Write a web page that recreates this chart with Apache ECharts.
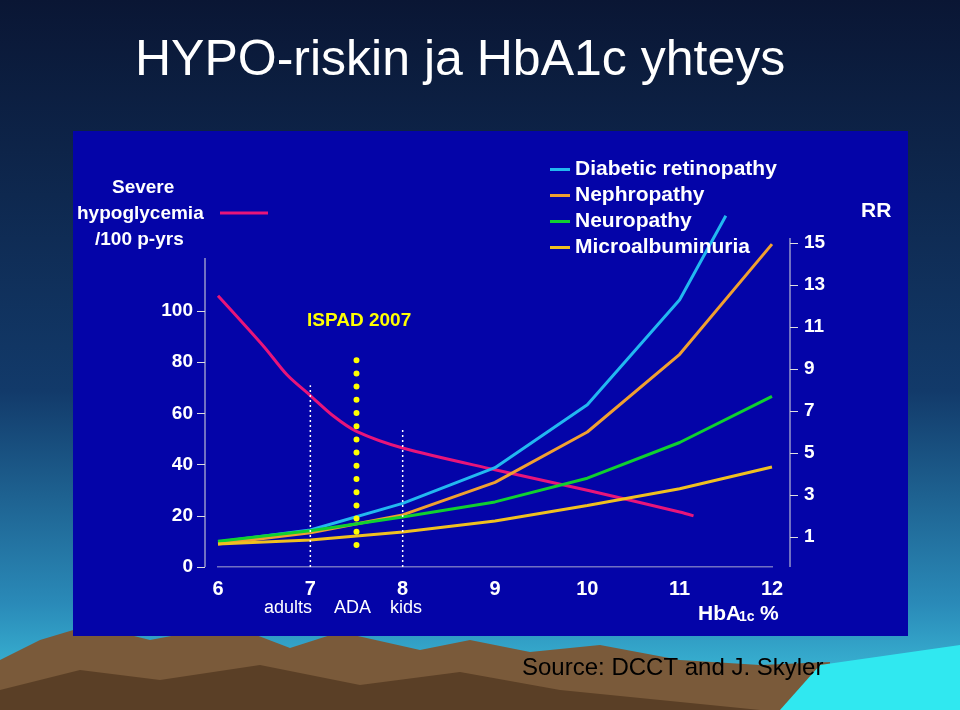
<!DOCTYPE html><html><head><meta charset="utf-8"><script src="https://cdn.jsdelivr.net/npm/echarts@6/dist/echarts.min.js"></script>
<style>html,body{margin:0;padding:0;background:#0b1a3e}#c{width:960px;height:710px}</style></head><body><div id="c"></div><script>
const hbaX=[6,7,8,9,10,11,12];
const hypo=[[6,106],[6.5,86],[6.75,75],[7,67],[7.25,59],[7.5,53],[8,46.5],[9,38],[10,30],[11,21.5],[11.15,20]];
const retinopathy=[0.76,1.33,2.6,4.3,7.3,12.3];
const retinoEnd=[11.5,16.3];
const nephropathy=[0.67,1.2,2.05,3.6,6,9.7,14.95];
const neuropathy=[0.8,1.3,1.95,2.67,3.8,5.5,7.7];
const microalb=[0.67,0.86,1.24,1.76,2.5,3.3,4.33];
const leftTicks=[0,20,40,60,80,100];
const rrTicks=[1,3,5,7,9,11,13,15];
const pair=a=>a.map((v,i)=>[hbaX[i],v]);
const retinoData=pair(retinopathy).concat([retinoEnd]);
const W='#ffffff',F='Liberation Sans, Arial, sans-serif';
const ch=echarts.init(document.getElementById('c'));
const lab=(t,x,y,o)=>({type:'text',left:x,top:y,style:Object.assign({text:t,fill:W,font:'bold 19px '+F},o||{})});
ch.setOption({
animation:false,
graphic:[
{type:'rect',shape:{x:0,y:0,width:960,height:710},z:-10,style:{fill:new echarts.graphic.LinearGradient(0,0,0,1,[{offset:0,color:'#0a1634'},{offset:0.55,color:'#123a6a'},{offset:0.85,color:'#2a8ab8'},{offset:1,color:'#40c8e0'}])}},
{type:'polygon',z:-9,shape:{points:[[0,660],[40,640],[90,625],[150,640],[230,625],[290,648],[340,632],[420,650],[470,640],[530,652],[600,645],[680,660],[760,665],[830,662],[830,710],[0,710]]},style:{fill:'#7a5a3a'}},
{type:'polygon',z:-8,shape:{points:[[0,690],[80,670],[160,680],[260,665],[360,685],[460,672],[560,690],[660,700],[760,710],[0,710]]},style:{fill:'#5a3f26'}},
{type:'polygon',z:-8,shape:{points:[[820,665],[960,645],[960,710],[780,710]]},style:{fill:'#30e8f0'}},
{type:'rect',z:-5,shape:{x:73,y:131,width:835,height:505},style:{fill:'#0404a8'}},
{type:'line',shape:{x1:205,y1:258,x2:205,y2:567},style:{stroke:'#ddd',lineWidth:1}},
{type:'line',shape:{x1:790,y1:238,x2:790,y2:567},style:{stroke:'#ddd',lineWidth:1}},
{type:'text',left:135,top:36,style:{text:'HYPO-riskin ja HbA1c yhteys',fill:W,font:'50px '+F}},
{type:'text',left:522,top:656,style:{text:'Source: DCCT and J. Skyler',fill:'#000',font:'24px '+F}},
lab('Severe',112,178),lab('hypoglycemia',77,204),lab('/100 p-yrs',95,230),
{type:'line',shape:{x1:220,y1:213,x2:268,y2:213},style:{stroke:'#e8157a',lineWidth:3}},
lab('RR',861,201,{font:'bold 21px '+F}),
lab('ISPAD 2007',307,311,{fill:'#ffff00'}),
lab('adults',264,599,{font:'18px '+F}),lab('ADA',334,599,{font:'18px '+F}),lab('kids',390,599,{font:'18px '+F}),
lab('HbA',698,604,{font:'bold 21px '+F}),lab('1c',739,610,{font:'bold 14px '+F}),lab('%',760,604,{font:'bold 21px '+F})
],
legend:{left:545,top:154,orient:'vertical',itemGap:5,itemWidth:20,itemHeight:3,icon:'rect',textStyle:{color:W,fontWeight:'bold',fontSize:21,fontFamily:F},
data:['Diabetic retinopathy','Nephropathy','Neuropathy','Microalbuminuria']},
grid:{left:218,right:188,top:200,bottom:143},
xAxis:{type:'value',min:6,max:12,interval:1,axisLine:{show:false},axisTick:{show:false},splitLine:{show:false},
axisLabel:{color:W,fontWeight:'bold',fontSize:20,fontFamily:F,margin:12}},
yAxis:[
{type:'value',min:0,max:143.4,offset:13,position:'left',splitLine:{show:false},
axisLine:{show:false},axisTick:{show:true,length:8,customValues:leftTicks,lineStyle:{color:'#ddd'}},
axisLabel:{customValues:leftTicks,color:W,fontWeight:'bold',fontSize:19,fontFamily:F,margin:12}},
{type:'value',min:-0.43,max:17.05,offset:18,position:'right',splitLine:{show:false},
axisLine:{show:false},axisTick:{show:true,length:8,customValues:rrTicks,lineStyle:{color:'#ddd'}},
axisLabel:{customValues:rrTicks,color:W,fontWeight:'bold',fontSize:19,fontFamily:F,margin:14}}],
series:[
{type:'line',name:'xline',yAxisIndex:0,data:[[5.86,0],[12.44,0]],symbol:'none',silent:true,lineStyle:{color:'#ddd',width:1}},
{type:'line',name:'hypo',yAxisIndex:0,data:hypo,smooth:0.3,symbol:'none',lineStyle:{color:'#e8157a',width:3}},
{type:'line',name:'Diabetic retinopathy',yAxisIndex:1,data:retinoData,symbol:'none',color:'#22b8f0',lineStyle:{width:3}},
{type:'line',name:'Nephropathy',yAxisIndex:1,data:pair(nephropathy),symbol:'none',color:'#f0a030',lineStyle:{width:3}},
{type:'line',name:'Neuropathy',yAxisIndex:1,data:pair(neuropathy),symbol:'none',color:'#10d030',lineStyle:{width:3}},
{type:'line',name:'Microalbuminuria',yAxisIndex:1,data:pair(microalb),symbol:'none',color:'#f0c020',lineStyle:{width:3}},
{type:'line',yAxisIndex:0,data:[[7,0],[7,71]],symbol:'none',lineStyle:{color:'#fff',width:1.5,type:[2,3]}},
{type:'line',yAxisIndex:0,data:[[8,0],[8,54.7]],symbol:'none',lineStyle:{color:'#fff',width:1.5,type:[2,3]}},
{type:'line',yAxisIndex:0,data:[[7.5,8.6],[7.5,82.8]],symbol:'none',z:5,lineStyle:{color:'#ffff00',width:6,cap:'round',type:[0,13.2]}}
]});
</script></body></html>
